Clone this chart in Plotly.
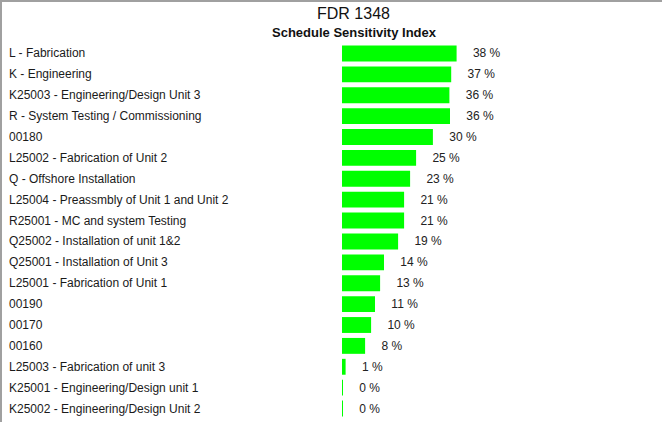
import plotly.graph_objects as go

categories = [
    "L - Fabrication",
    "K - Engineering",
    "K25003 - Engineering/Design Unit 3",
    "R - System Testing / Commissioning",
    "00180",
    "L25002 - Fabrication of Unit 2",
    "Q - Offshore Installation",
    "L25004 - Preassmbly of Unit 1 and Unit 2",
    "R25001 - MC and system Testing",
    "Q25002 - Installation of unit 1&2",
    "Q25001 - Installation of Unit 3",
    "L25001 - Fabrication of Unit 1",
    "00190",
    "00170",
    "00160",
    "L25003 - Fabrication of unit 3",
    "K25001 - Engineering/Design unit 1",
    "K25002 - Engineering/Design Unit 2",
]
values = [38.2, 36.4, 35.8, 36.0, 30.3, 24.7, 22.7, 20.7, 20.7, 18.7, 14.0, 12.7, 11.0, 9.7, 7.7, 1.2, 0.3, 0.3]
labels = ["38", "37", "36", "36", "30", "25", "23", "21", "21", "19", "14", "13", "11", "10", "8", "1", "0", "0"]

W, H = 662, 422
ML, MR, MT, MB = 342, 20, 43, 3
FONT = "Liberation Sans, Arial, sans-serif"

fig = go.Figure()
fig.add_trace(go.Bar(
    y=categories, x=values, orientation="h",
    marker=dict(color="#00ff00", line=dict(width=0)),
    text=[f"\u00a0\u00a0\u00a0\u00a0{l} %" for l in labels],
    textposition="outside", constraintext="none", cliponaxis=False,
    textfont=dict(family=FONT, size=12, color="#222222"),
    hoverinfo="skip",
))

annotations = []
for i, c in enumerate(categories):
    annotations.append(dict(
        x=-(ML - 7) / (W - ML - MR), xref="paper", y=i, yref="y",
        text=c, showarrow=False, xanchor="left", yanchor="middle",
        font=dict(family=FONT, size=12, color="#1a1a1a"),
    ))
annotations.append(dict(
    x=(353 - ML) / (W - ML - MR), xref="paper", y=(H - MT - MB + (MT - 13)) / (H - MT - MB), yref="paper",
    text="FDR 1348", showarrow=False, xanchor="center", yanchor="middle",
    font=dict(family=FONT, size=16, color="#111111"),
))
annotations.append(dict(
    x=(354 - ML) / (W - ML - MR), xref="paper", y=(H - MT - MB + (MT - 33)) / (H - MT - MB), yref="paper",
    text="<b>Schedule Sensitivity Index</b>", showarrow=False, xanchor="center", yanchor="middle",
    font=dict(family=FONT, size=13, color="#111111"),
))

pw, ph = W - ML - MR, H - MT - MB
shapes = [
    dict(type="rect", xref="paper", yref="paper",
         x0=-ML / pw, x1=-(ML - 2) / pw, y0=-MB / ph, y1=(ph + MT) / ph,
         fillcolor="#a0a0a0", line=dict(width=0)),
    dict(type="rect", xref="paper", yref="paper",
         x0=-ML / pw, x1=(pw + MR) / pw, y0=(ph + MT - 2) / ph, y1=(ph + MT) / ph,
         fillcolor="#a0a0a0", line=dict(width=0)),
]

n = len(categories)
fig.update_layout(
    width=W, height=H,
    margin=dict(l=ML, r=MR, t=MT, b=MB, pad=0),
    paper_bgcolor="white", plot_bgcolor="white",
    showlegend=False, bargap=0.24,
    xaxis=dict(range=[0, 100], visible=False, fixedrange=True),
    yaxis=dict(type="category", range=[n - 0.5, -0.5], visible=False, fixedrange=True),
    annotations=annotations, shapes=shapes,
)

fig.write_html("out.html", config={"displayModeBar": False})
